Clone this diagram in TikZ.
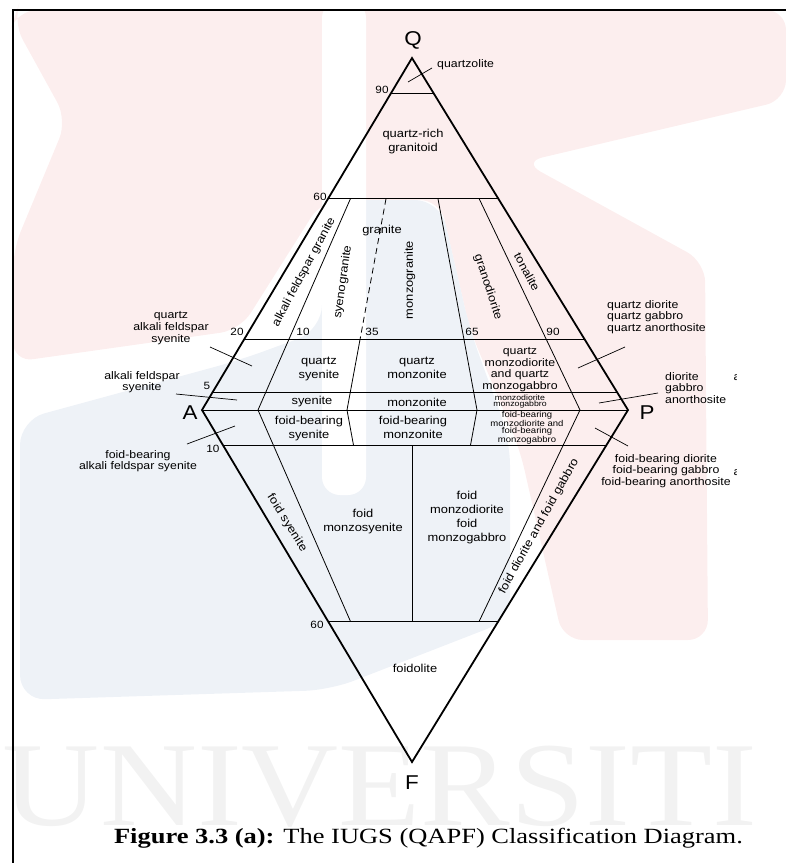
\documentclass[tikz,border=0pt]{standalone}
\usepackage{fontspec}
\setmainfont[FakeStretch=1.12]{Liberation Sans}
\newfontfamily\capfont[FakeStretch=1.22]{Liberation Serif}
\newfontfamily\wmfont[FakeStretch=1.12]{Liberation Serif}
\usetikzlibrary{calc}
\definecolor{wmpink}{RGB}{252,238,238}
\definecolor{wmblue}{RGB}{238,242,247}
\definecolor{wmgray}{RGB}{242,242,242}
\begin{document}
\begin{tikzpicture}[x=1pt,y=-1pt,
  outer/.style={line width=1.8pt,line join=miter},
  field/.style={line width=0.8pt},
  lead/.style={line width=0.7pt},
  lbl/.style={font=\fontsize{11.5}{14}\selectfont,align=center,inner sep=0pt},
  side/.style={font=\fontsize{11}{11.7}\selectfont,align=center,inner sep=0pt},
  small/.style={font=\fontsize{8.5}{7}\selectfont,align=center,inner sep=0pt},
  tiny/.style={font=\fontsize{7.8}{6}\selectfont,align=center,inner sep=0pt},
  num/.style={font=\fontsize{10.5}{12}\selectfont,inner sep=0pt},
  apex/.style={font=\fontsize{20}{22}\selectfont,inner sep=0pt},
]
\useasboundingbox (0,0) rectangle (786,863);
% ---------- watermark ----------
\fill[wmpink,rounded corners=20pt] (17,10) -- (786,10) -- (786,100) -- (523,162) -- (705,262)
  -- (708,640) -- (563,640) -- (520,450) -- (470,330) -- (440,200) -- (322,200) -- (240,330)
  -- (13,362) -- (13,250) -- (67,120) -- (13,22) -- cycle;
\fill[wmblue,rounded corners=25pt] (20,420) -- (240,360) -- (322,330) -- (322,200) -- (440,200)
  -- (470,330) -- (510,440) -- (510,620) -- (330,690) -- (20,700) -- cycle;
\fill[white,rounded corners=18pt] (322,0) -- (366,0) -- (366,495) -- (322,495) -- cycle;
\node[font=\wmfont\fontsize{120}{120}\selectfont,text=wmgray,anchor=base,inner sep=0pt] (wm) at (380,825) {UNIVERSITI};
% ---------- frame ----------
\draw[line width=1.5pt] (13,863) -- (13,10) -- (786,10);
% ---------- vertices ----------
\coordinate (Q) at (412,58);
\coordinate (A) at (202,410);
\coordinate (P) at (628,410);
\coordinate (F) at (412,762);
\coordinate (B10) at (258,410);
\coordinate (B35) at (347,410);
\coordinate (B50) at (412,410);
\coordinate (B65) at (477,410);
\coordinate (B90) at (580,410);
% ---------- horizontal lines ----------
\draw[field] ($(A)!0.9!(Q)$) -- ($(P)!0.9!(Q)$);
\draw[field] ($(A)!0.6!(Q)$) -- ($(P)!0.6!(Q)$);
\draw[field] ($(A)!0.2!(Q)$) -- ($(P)!0.2!(Q)$);
\draw[field] ($(A)!0.05!(Q)$) -- ($(P)!0.05!(Q)$);
\draw[field] (A) -- (P);
\draw[field] ($(A)!0.1!(F)$) -- ($(P)!0.1!(F)$);
\draw[field] ($(A)!0.6!(F)$) -- ($(P)!0.6!(F)$);
% ---------- field boundaries ----------
\draw[field] ($(B10)!0.6!(Q)$) -- (B10) -- ($(B10)!0.6!(F)$);
\draw[field,dash pattern=on 6pt off 4pt] ($(B35)!0.6!(Q)$) -- ($(B35)!0.2!(Q)$);
\draw[field] ($(B35)!0.2!(Q)$) -- (B35) -- ($(B35)!0.1!(F)$);
\draw[field] ($(B65)!0.6!(Q)$) -- (B65) -- ($(B65)!0.1!(F)$);
\draw[field] ($(B90)!0.6!(Q)$) -- (B90) -- ($(B90)!0.6!(F)$);
\draw[field] ($(B50)!0.1!(F)$) -- ($(B50)!0.6!(F)$);
% ---------- outline ----------
\draw[outer] (A) -- (Q) -- (P) -- (F) -- cycle;
% ---------- apex labels ----------
\node[apex] (lQ) at (413,40) {Q};
\node[apex] (lA) at (190,413) {A};
\node[apex] (lP) at (647,413) {P};
\node[apex] (lF) at (412,783) {F};
% ---------- numbers ----------
\node[num] (n90a) at (382,90) {90};
\node[num] (n60a) at (320,197) {60};
\node[num] (n20) at (237,332) {20};
\node[num] (n10a) at (303,332) {10};
\node[num] (n35) at (372,332) {35};
\node[num] (n65) at (472,332) {65};
\node[num] (n90b) at (553,332) {90};
\node[num] (n5) at (207,386) {5};
\node[num] (n10b) at (213,449) {10};
\node[num] (n60b) at (317,625) {60};
% ---------- leaders ----------
\coordinate (qz1) at (408,82); \coordinate (qz2) at (432,68);
\coordinate (qa1) at (210,347); \coordinate (qa2) at (252,366);
\coordinate (af1) at (176,394); \coordinate (af2) at (237,400);
\coordinate (fa1) at (187,444); \coordinate (fa2) at (235,426);
\coordinate (qd1) at (625,347); \coordinate (qd2) at (578,368);
\coordinate (di1) at (658,393); \coordinate (di2) at (599,403);
\coordinate (fd1) at (595,428); \coordinate (fd2) at (628,446);
\draw[lead] (qz1) -- (qz2);
\draw[lead] (qa1) -- (qa2);
\draw[lead] (af1) -- (af2);
\draw[lead] (fa1) -- (fa2);
\draw[lead] (qd1) -- (qd2);
\draw[lead] (di1) -- (di2);
\draw[lead] (fd1) -- (fd2);
% ---------- field names ----------
\node[side,anchor=west] (quartzolite) at (437,65) {quartzolite};
\node[lbl] (qrg) at (413,142) {quartz-rich\\granitoid};
\node[lbl,rotate=62] (afg) at (304,272) {alkali feldspar granite};
\node[lbl] (gra) at (382,231) {granite};
\node[lbl,rotate=82] (syg) at (343,282) {syenogranite};
\node[lbl,rotate=90] (mzg) at (410,280) {monzogranite};
\node[lbl,rotate=-72] (grd) at (488,287) {granodiorite};
\node[lbl,rotate=-62] (ton) at (527,272) {tonalite};
\node[side] (qafs) at (171,328) {quartz\\alkali feldspar\\syenite};
\node[side] (afs) at (142,382) {alkali feldspar\\syenite};
\node[side] (fbafs) at (138,461) {foid-bearing\\alkali feldspar syenite};
\node[side,align=left,anchor=west] (qdio) at (607,317) {quartz diorite\\quartz gabbro\\quartz anorthosite};
\node[side,align=left,anchor=west] (dio) at (665,388) {diorite\\gabbro\\anorthosite};
\node[side] (fbdio) at (666,471) {foid-bearing diorite\\foid-bearing gabbro\\foid-bearing anorthosite};
\node[lbl] (qsy) at (319,369) {quartz\\syenite};
\node[lbl] (qmz) at (417,368) {quartz\\monzonite};
\node[side] (qmd) at (520,369.5) {quartz\\monzodiorite\\and quartz\\monzogabbro};
\node[lbl] (sye) at (312,402) {syenite};
\node[lbl] (mzn) at (417,402) {monzonite};
\node[tiny] (mzd) at (520,401) {monzodiorite\\monzogabbro};
\node[lbl] (fbs) at (309,429) {foid-bearing\\syenite};
\node[lbl] (fbm) at (413,427) {foid-bearing\\monzonite};
\node[small] (fbmd) at (527,428) {foid-bearing\\monzodiorite and\\foid-bearing\\monzogabbro};
\node[lbl,rotate=-58] (fsy) at (287,523) {foid syenite};
\node[lbl] (fms) at (363,522) {foid\\monzosyenite};
\node[lbl] (fmd) at (467,517.5) {foid\\monzodiorite\\foid\\monzogabbro};
\node[lbl,rotate=61] (fdg) at (539,526) {foid diorite and foid gabbro};
\node[lbl] (fdl) at (415,668) {foidolite};
% ---------- cut-off fragments at the right ----------
\begin{scope}
\clip (725,350) rectangle (736,490);
\node[side] (fr1) at (737,378) {a};
\node[side] (fr2) at (737,473) {a};
\end{scope}
% ---------- caption ----------
\node[anchor=base,font=\capfont\fontsize{21.7}{24}\selectfont,inner sep=0pt] (cap) at (428.5,843)
  {\textbf{Figure 3.3 (a):} The IUGS (QAPF) Classification Diagram.};
\end{tikzpicture}
\end{document}
